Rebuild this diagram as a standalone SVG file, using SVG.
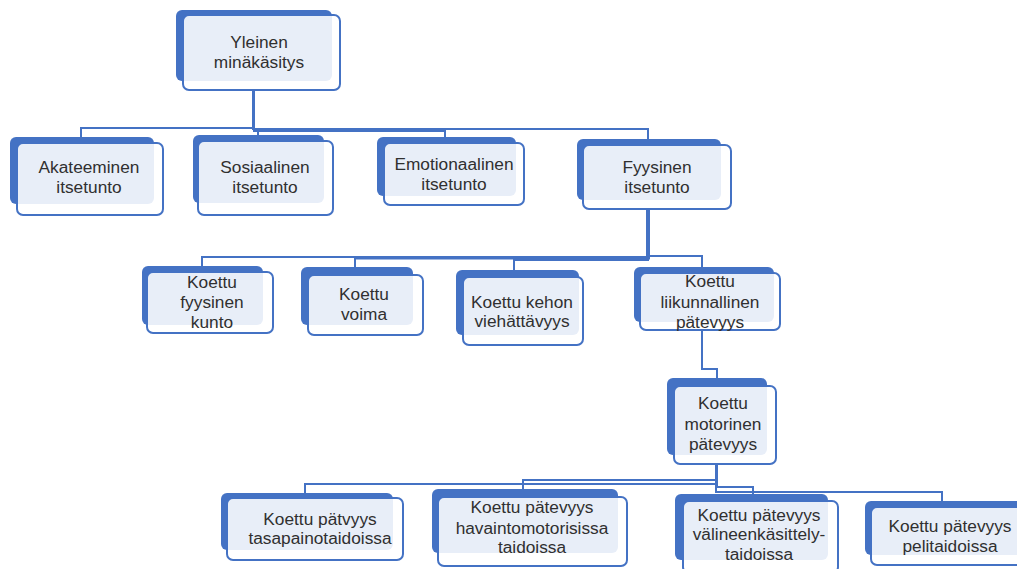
<svg xmlns="http://www.w3.org/2000/svg" width="1017" height="569" viewBox="0 0 1017 569">
<style>
.bk{fill:#4472C4;stroke:none}
.fr{fill:#ffffff;fill-opacity:0.88;stroke:#4472C4;stroke-width:2}
.t{font-family:"Liberation Sans",Arial,sans-serif;font-size:17.3px;fill:#303030;text-anchor:middle}
.c{fill:none;stroke:#4472C4;stroke-width:2}
</style>
<rect width="1017" height="569" fill="#ffffff"/>
<g id="connectors">
<path class="c" d="M253 90V128H81V140"/>
<path class="c" d="M253 90V129H258V140"/>
<path class="c" d="M254 90V131H445V140"/>
<path class="c" d="M253 90V129H648V142"/>
<path class="c" d="M648 209V257H202V270"/>
<path class="c" d="M649 209V258.5H355V270"/>
<path class="c" d="M648 209V260H514V273"/>
<path class="c" d="M647 209V256H702V270"/>
<path class="c" d="M702 330V369H717V381"/>
<path class="c" d="M716 464V484H305V496"/>
<path class="c" d="M716 464V480H523V492"/>
<path class="c" d="M717 464V487H753V497"/>
<path class="c" d="M716 464V492H942V504"/>
</g>
<g id="n1"><rect class="bk" x="176" y="10" width="156" height="71" rx="6"/><rect class="fr" x="183" y="15" width="157" height="75" rx="6"/><text class="t" x="259" y="48">Yleinen</text><text class="t" x="259" y="68">minäkäsitys</text></g>
<g id="n2"><rect class="bk" x="10" y="137" width="144" height="67" rx="6"/><rect class="fr" x="17" y="143" width="146" height="72" rx="6"/><text class="t" x="89" y="173">Akateeminen</text><text class="t" x="89" y="193">itsetunto</text></g>
<g id="n3"><rect class="bk" x="193" y="135" width="131" height="68" rx="6"/><rect class="fr" x="198" y="141" width="135" height="74" rx="6"/><text class="t" x="265" y="173">Sosiaalinen</text><text class="t" x="265" y="193">itsetunto</text></g>
<g id="n4"><rect class="bk" x="377" y="137" width="139" height="59" rx="6"/><rect class="fr" x="384" y="143" width="140" height="62" rx="6"/><text class="t" x="454" y="170">Emotionaalinen</text><text class="t" x="454" y="190">itsetunto</text></g>
<g id="n5"><rect class="bk" x="577" y="139" width="144" height="61" rx="6"/><rect class="fr" x="583" y="145" width="148" height="64" rx="6"/><text class="t" x="657" y="173">Fyysinen</text><text class="t" x="657" y="193">itsetunto</text></g>
<g id="n6"><rect class="bk" x="142" y="266" width="121" height="59" rx="6"/><rect class="fr" x="147" y="272" width="126" height="61" rx="6"/><text class="t" x="212" y="288">Koettu</text><text class="t" x="212" y="308">fyysinen</text><text class="t" x="212" y="328">kunto</text></g>
<g id="n7"><rect class="bk" x="301" y="267" width="112" height="58" rx="6"/><rect class="fr" x="308" y="275" width="115" height="60" rx="6"/><text class="t" x="364" y="300">Koettu</text><text class="t" x="364" y="320">voima</text></g>
<g id="n8"><rect class="bk" x="456" y="270" width="123" height="65" rx="6"/><rect class="fr" x="463" y="277" width="120" height="68" rx="6"/><text class="t" x="522" y="308">Koettu kehon</text><text class="t" x="522" y="327">viehättävyys</text></g>
<g id="n9"><rect class="bk" x="634" y="267" width="140" height="55" rx="6"/><rect class="fr" x="640" y="273" width="140" height="57" rx="6"/><text class="t" x="710" y="287">Koettu</text><text class="t" x="710" y="308">liikunnallinen</text><text class="t" x="710" y="328">pätevyys</text></g>
<g id="n10"><rect class="bk" x="667" y="378" width="100" height="77" rx="6"/><rect class="fr" x="674" y="386" width="102" height="78" rx="6"/><text class="t" x="723" y="409">Koettu</text><text class="t" x="723" y="430">motorinen</text><text class="t" x="723" y="450">pätevyys</text></g>
<g id="n11"><rect class="bk" x="221" y="493" width="172" height="57" rx="6"/><rect class="fr" x="227" y="498" width="176" height="62" rx="6"/><text class="t" x="320" y="525">Koettu pätvyys</text><text class="t" x="320" y="544">tasapainotaidoissa</text></g>
<g id="n12"><rect class="bk" x="432" y="489" width="186" height="64" rx="6"/><rect class="fr" x="438" y="497" width="189" height="69" rx="6"/><text class="t" x="532" y="513">Koettu pätevyys</text><text class="t" x="532" y="534">havaintomotorisissa</text><text class="t" x="532" y="553">taidoissa</text></g>
<g id="n13"><rect class="bk" x="675" y="494" width="153" height="66" rx="6"/><rect class="fr" x="683" y="501" width="155" height="72" rx="6"/><text class="t" x="759" y="521">Koettu pätevyys</text><text class="t" x="759" y="540">välineenkäsittely-</text><text class="t" x="759" y="560">taidoissa</text></g>
<g id="n14"><rect class="bk" x="865" y="501" width="160" height="54" rx="6"/><rect class="fr" x="871" y="507" width="160" height="58" rx="6"/><text class="t" x="950" y="532">Koettu pätevyys</text><text class="t" x="950" y="552">pelitaidoissa</text></g>
</svg>
